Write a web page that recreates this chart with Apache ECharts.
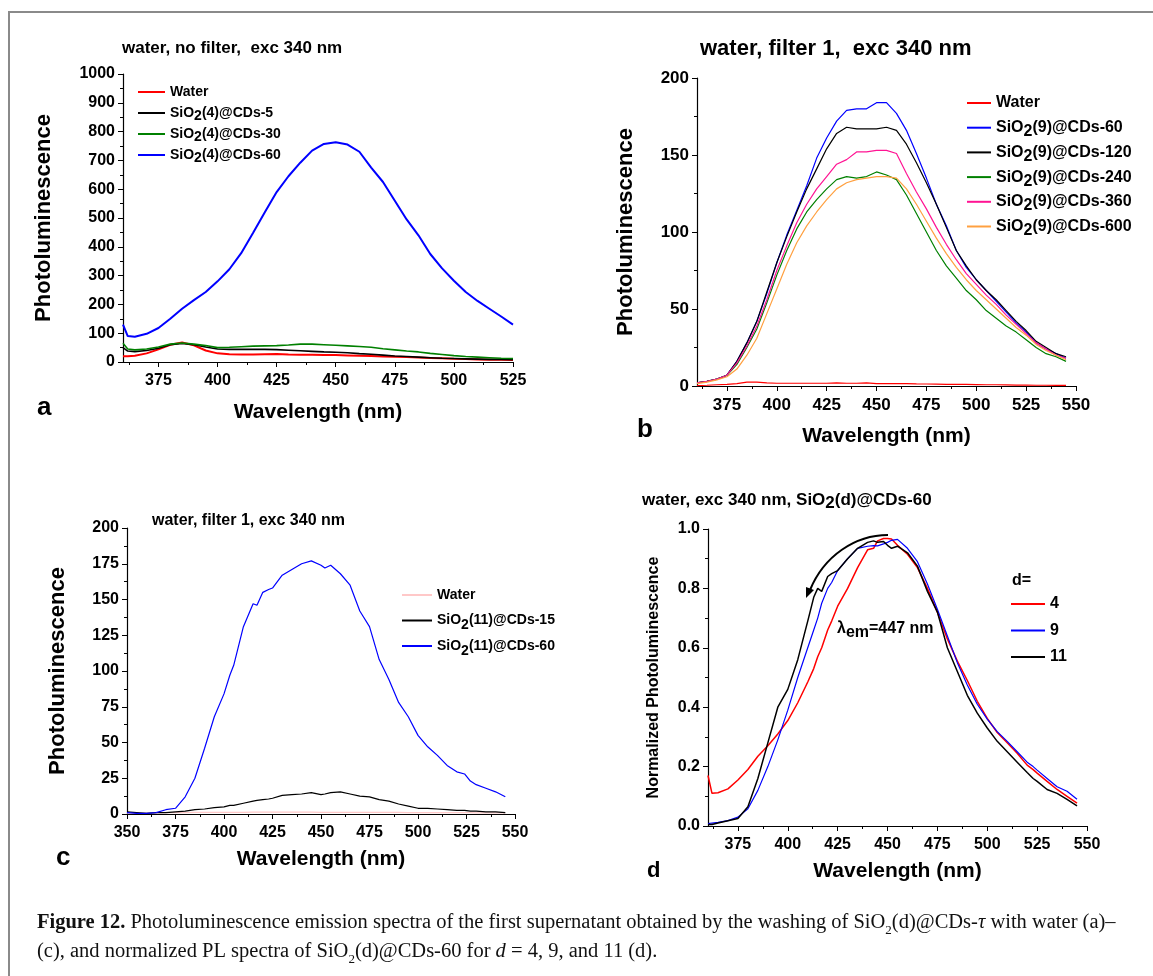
<!DOCTYPE html>
<html>
<head>
<meta charset="utf-8">
<script src="https://cdn.jsdelivr.net/npm/echarts@6/dist/echarts.min.js"></script>
<style>
html, body { margin: 0; padding: 0; background: #fff; }
#chart { width: 1153px; height: 976px; }
</style>
</head>
<body>
<div id="chart"></div>
<script>
// ---- panel a : water, no filter ----
const wlA = [360, 362, 365, 370, 375, 380, 385, 390, 395, 400, 405, 410, 415, 420, 425, 430, 435, 440, 445, 450, 455, 460, 465, 470, 475, 480, 485, 490, 495, 500, 505, 510, 515, 520, 525]
const waterA = [20, 20, 22, 30, 44, 60, 68, 58, 40, 30, 27, 26, 26, 27, 28, 26, 25, 25, 24, 24, 23, 22, 21, 19, 18, 17, 16, 14, 13, 11, 10, 9, 8, 8, 7]
const cds5A = [50, 38, 36, 40, 48, 60, 64, 60, 52, 45, 44, 44, 44, 44, 43, 41, 39, 37, 35, 34, 32, 29, 27, 24, 21, 19, 17, 15, 13, 12, 11, 10, 9, 9, 8]
const cds30A = [65, 45, 42, 45, 52, 62, 66, 62, 57, 50, 51, 53, 55, 56, 57, 59, 62, 62, 60, 58, 56, 54, 51, 46, 42, 38, 35, 30, 26, 22, 19, 17, 15, 13, 12]
const cds60A = [130, 90, 88, 98, 118, 150, 185, 215, 243, 280, 322, 378, 448, 520, 590, 645, 692, 734, 757, 763, 755, 730, 675, 625, 560, 495, 440, 375, 325, 282, 243, 212, 185, 158, 130]

// ---- panel b : water, filter 1, SiO2(9) ----
const wlB = [360, 365, 370, 375, 380, 385, 390, 395, 400, 405, 410, 415, 420, 425, 430, 435, 440, 445, 450, 455, 460, 465, 470, 475, 480, 485, 490, 495, 500, 505, 510, 515, 520, 525, 530, 535, 540, 545]
const waterB = [0.3, 0.5, 0.8, 1, 1.5, 2.5, 2.5, 2, 1.8, 1.8, 1.8, 1.8, 1.8, 1.8, 2, 1.8, 1.8, 2, 1.6, 1.6, 1.6, 1.6, 1.4, 1.3, 1.2, 1.1, 1, 1, 0.9, 0.8, 0.8, 0.7, 0.6, 0.6, 0.5, 0.5, 0.4, 0.4]
const cds60B = [2, 3, 4.5, 7, 16, 28, 42, 60, 80, 98, 114, 130, 148, 161, 172, 179, 180, 180, 184, 184, 177, 166, 151, 135, 118, 104, 88, 77, 69, 62, 55, 48, 41, 35, 28, 24, 21, 18]
const cds120B = [2, 3, 4.5, 7, 16, 28, 42, 61, 80, 97, 113, 128, 141, 154, 164, 168, 167, 167, 167, 168, 166, 157, 145, 132, 118, 103, 88, 78, 69, 62, 56, 49, 42, 36, 29, 25, 21, 19]
const cds240B = [2, 3, 4.5, 7, 14, 25, 37, 54, 72, 88, 102, 113, 121, 128, 134, 136, 135, 136, 139, 137, 134, 124, 112, 100, 88, 78, 70, 62, 56, 49, 44, 39, 35, 30, 25, 21, 19, 16]
const cds360B = [2, 3, 4.5, 7, 15, 26, 39, 56, 75, 91, 106, 118, 128, 136, 144, 147, 152, 152, 153, 153, 151, 138, 126, 115, 103, 92, 82, 73, 66, 59, 53, 46, 40, 34, 28, 24, 20, 18]
const cds600B = [1.5, 2.5, 4, 6, 11, 20, 31, 47, 63, 79, 93, 104, 113, 121, 128, 132, 134, 135, 136, 136, 135, 128, 118, 107, 96, 86, 77, 69, 62, 56, 50, 44, 38, 33, 27, 23, 20, 17]

// ---- panel c : water, filter 1, SiO2(11) ----
const wlC = [350, 355, 360, 365, 370, 375, 380, 385, 390, 395, 400, 403, 405, 410, 415, 417, 420, 423, 425, 430, 435, 440, 445, 450, 452, 455, 460, 465, 470, 475, 480, 485, 490, 495, 500, 505, 510, 515, 520, 524, 527, 530, 535, 540, 545]
const waterC = [0.6, 0.6, 0.7, 0.8, 0.9, 1, 1, 1.1, 1.1, 1.2, 1.2, 1.2, 1.2, 1.2, 1.3, 1.3, 1.3, 1.3, 1.3, 1.3, 1.3, 1.3, 1.3, 1.2, 1.2, 1.2, 1.2, 1.2, 1.2, 1.1, 1.1, 1.1, 1.1, 1, 1, 1, 1, 0.9, 0.9, 0.9, 0.9, 0.8, 0.8, 0.8, 0.8]
const cds15C = [1.5, 1, 0.5, 1, 1, 1.5, 2, 3, 3.5, 4.5, 5, 6, 6, 7.5, 9, 9.5, 10, 10.5, 11, 13, 13.5, 14, 15, 13.5, 14, 15, 15.5, 14, 12.5, 12, 10, 9, 7, 5.5, 4, 4, 3.5, 3, 2.5, 2.5, 2, 2, 1.5, 1.5, 1]
const cds60C = [1, 0.5, 0.5, 1, 3, 4, 12, 25, 46, 68, 84, 97, 104, 131, 147, 146, 155, 157, 158, 167, 171, 175, 177, 174, 172, 174, 168, 160, 142, 131, 108, 94, 78, 68, 55, 47, 41, 34, 29.5, 28, 23, 20.5, 18, 15.5, 12]

// ---- panel d : normalized, SiO2(d)@CDs-60 ----
const wlD = [360, 362, 365, 370, 375, 380, 385, 390, 395, 400, 405, 410, 413, 415, 417, 420, 422, 425, 430, 435, 440, 443, 445, 448, 450, 452, 455, 460, 465, 470, 475, 480, 485, 490, 495, 500, 505, 510, 515, 520, 523, 525, 530, 535, 540, 545]
const d4 = [0.17, 0.11, 0.112, 0.125, 0.155, 0.19, 0.235, 0.27, 0.31, 0.355, 0.415, 0.485, 0.53, 0.57, 0.6, 0.66, 0.69, 0.74, 0.8, 0.87, 0.93, 0.935, 0.96, 0.968, 0.968, 0.966, 0.945, 0.915, 0.87, 0.8, 0.72, 0.63, 0.555, 0.49, 0.42, 0.362, 0.315, 0.28, 0.245, 0.205, 0.19, 0.178, 0.15, 0.123, 0.1, 0.077]
const d9 = [0.008, 0.01, 0.012, 0.018, 0.03, 0.058, 0.12, 0.2, 0.29, 0.39, 0.5, 0.6, 0.66, 0.7, 0.75, 0.8, 0.82, 0.86, 0.9, 0.935, 0.942, 0.944, 0.943, 0.95, 0.955, 0.962, 0.965, 0.935, 0.89, 0.815, 0.73, 0.64, 0.55, 0.475, 0.41, 0.36, 0.318, 0.285, 0.25, 0.215, 0.2, 0.188, 0.16, 0.132, 0.117, 0.09]
const d11 = [0.005, 0.005, 0.01, 0.018, 0.025, 0.065, 0.16, 0.28, 0.4, 0.46, 0.56, 0.69, 0.77, 0.8, 0.79, 0.84, 0.85, 0.86, 0.9, 0.935, 0.955, 0.96, 0.955, 0.958, 0.945, 0.935, 0.942, 0.92, 0.875, 0.79, 0.72, 0.6, 0.52, 0.44, 0.38, 0.33, 0.285, 0.25, 0.215, 0.18, 0.16, 0.15, 0.123, 0.11, 0.09, 0.068]

// tick positions
const ticksX375 = [375, 400, 425, 450, 475, 500, 525, 550]
const minorX362 = [362.5, 387.5, 412.5, 437.5, 462.5, 487.5, 512.5, 537.5]
const ticksX350 = [350, 375, 400, 425, 450, 475, 500, 525, 550]

const FONT = 'Liberation Sans'
const pair = (xs, ys) => xs.map((x, i) => [x, ys[i]])

// "a:SiO2(4)@CDs-5" -> rich text with subscript 2
function subName(name) {
  const t = name.split(':')[1]
  if (t.indexOf('SiO2') === 0) {
    return '{n|SiO}{s|2}{n|' + t.slice(4) + '}'
  }
  if (t === 'Water') return '{n|Water}{s| }'
  return '{n|' + t + '}'
}

function richSub(size, lh) {
  return {
    n: { fontFamily: FONT, fontWeight: 'bold', fontSize: size, color: '#000', lineHeight: lh },
    s: { fontFamily: FONT, fontWeight: 'bold', fontSize: size, color: '#000', lineHeight: size, verticalAlign: 'bottom' }
  }
}

function xAxes(g, min, max, majors, minors, fs, nameGap) {
  return [{
    type: 'value', gridIndex: g, position: 'bottom', min: min, max: max,
    name: 'Wavelength (nm)', nameLocation: 'middle', nameGap: nameGap,
    nameTextStyle: { fontFamily: FONT, fontWeight: 'bold', fontSize: 21, color: '#000' },
    axisLine: { onZero: false, lineStyle: { color: '#000', width: 1.2 } },
    axisTick: { customValues: majors, length: 5, lineStyle: { color: '#000' } },
    axisLabel: { customValues: majors, fontFamily: FONT, fontWeight: 'bold', fontSize: fs, color: '#000', margin: 11 },
    splitLine: { show: false }
  }, {
    type: 'value', gridIndex: g, position: 'bottom', min: min, max: max,
    axisLine: { show: false, onZero: false },
    axisTick: { customValues: minors, length: 3, lineStyle: { color: '#000' } },
    axisLabel: { show: false },
    splitLine: { show: false }
  }]
}

function yAxis(g, max, interval, name, fs, nameFs, nameGap, fmt) {
  return {
    type: 'value', gridIndex: g, min: 0, max: max, interval: interval,
    name: name, nameLocation: 'middle', nameGap: nameGap,
    nameTextStyle: { fontFamily: FONT, fontWeight: 'bold', fontSize: nameFs, color: '#000' },
    axisLine: { show: true, lineStyle: { color: '#000', width: 1.2 } },
    axisTick: { show: true, length: 5, lineStyle: { color: '#000' } },
    minorTick: { show: true, splitNumber: 2, length: 3, lineStyle: { color: '#000' } },
    axisLabel: { fontFamily: FONT, fontWeight: 'bold', fontSize: fs, color: '#000', margin: 8, formatter: fmt || (v => String(v)) },
    splitLine: { show: false }
  }
}

function line(name, g, xs, ys, color, width) {
  return {
    name: name, type: 'line', xAxisIndex: g * 2, yAxisIndex: g,
    data: pair(xs, ys), symbol: 'none', showSymbol: false,
    lineStyle: { color: color, width: width }, itemStyle: { color: color },
    silent: true
  }
}

function legend(names, left, top, fs, lh, gap, w) {
  return {
    data: names, orient: 'vertical', left: left, top: top, itemGap: gap,
    icon: 'rect', itemWidth: w, itemHeight: 2, selectedMode: false,
    formatter: subName,
    textStyle: { rich: richSub(fs, lh) }
  }
}

const chart = echarts.init(document.getElementById('chart'))

chart.setOption({
  animation: false,
  backgroundColor: '#fff',
  title: [
    { text: 'water, no filter,  exc 340 nm', left: 117, top: 35, textStyle: { fontFamily: FONT, fontWeight: 'bold', fontSize: 17, color: '#000' } },
    { text: 'water, filter 1,  exc 340 nm', left: 695, top: 33, textStyle: { fontFamily: FONT, fontWeight: 'bold', fontSize: 22, color: '#000' } },
    { text: 'water, filter 1, exc 340 nm', left: 147, top: 508, textStyle: { fontFamily: FONT, fontWeight: 'bold', fontSize: 16, color: '#000' } },
    { text: '{n|water, exc 340 nm, SiO}{s|2}{n|(d)@CDs-60}', left: 637, top: 483, textStyle: { rich: richSub(17, 24) } },
    { text: 'a', left: 32, top: 390, textStyle: { fontFamily: FONT, fontWeight: 'bold', fontSize: 26, color: '#000' } },
    { text: 'b', left: 632, top: 412, textStyle: { fontFamily: FONT, fontWeight: 'bold', fontSize: 26, color: '#000' } },
    { text: 'c', left: 51, top: 840, textStyle: { fontFamily: FONT, fontWeight: 'bold', fontSize: 26, color: '#000' } },
    { text: 'd', left: 642, top: 855, textStyle: { fontFamily: FONT, fontWeight: 'bold', fontSize: 22, color: '#000' } },
    { text: 'd=', left: 1007, top: 568, textStyle: { fontFamily: FONT, fontWeight: 'bold', fontSize: 16, color: '#000' } },
    { text: '{n|λ}{s|em}{n|=447 nm}', left: 832, top: 612, textStyle: { rich: richSub(16, 24) } },
    {
      text: '{b|Figure 12.} {r|Photoluminescence emission spectra of the first supernatant obtained by the washing of SiO}{sub|2}{r|(d)@CDs-}{i|τ}{r| with water (a)–}\n{r|(c), and normalized PL spectra of SiO}{sub|2}{r|(d)@CDs-60 for }{i|d}{r| = 4, 9, and 11 (d).}',
      left: 32, top: 903,
      textStyle: {
        fontWeight: 'normal',
        lineHeight: 29,
        rich: {
          b: { fontFamily: 'Liberation Serif', fontWeight: 'bold', fontSize: 20.5, color: '#111', lineHeight: 29 },
          r: { fontFamily: 'Liberation Serif', fontWeight: 'normal', fontSize: 20.5, color: '#111', lineHeight: 29 },
          i: { fontFamily: 'Liberation Serif', fontWeight: 'normal', fontStyle: 'italic', fontSize: 20.5, color: '#111', lineHeight: 29 },
          sub: { fontFamily: 'Liberation Serif', fontWeight: 'normal', fontSize: 13, color: '#111', lineHeight: 20, verticalAlign: 'bottom' }
        }
      }
    }
  ],
  legend: [
    legend(['a:Water', 'a:SiO2(4)@CDs-5', 'a:SiO2(4)@CDs-30', 'a:SiO2(4)@CDs-60'], 133, 80, 14, 21, 3.5, 27),
    legend(['b:Water', 'b:SiO2(9)@CDs-60', 'b:SiO2(9)@CDs-120', 'b:SiO2(9)@CDs-240', 'b:SiO2(9)@CDs-360', 'b:SiO2(9)@CDs-600'], 962, 90, 16, 24, 4.7, 24),
    legend(['c:Water', 'c:SiO2(11)@CDs-15', 'c:SiO2(11)@CDs-60'], 397, 583, 14, 24, 6.5, 30),
    legend(['d:4', 'd:9', 'd:11'], 1006, 591, 16, 24, 10.5, 34)
  ],
  grid: [
    { left: 123, top: 74, width: 390, height: 288 },
    { left: 697, top: 78, width: 379, height: 308 },
    { left: 127, top: 528, width: 388, height: 286 },
    { left: 708, top: 529, width: 379, height: 297 }
  ],
  xAxis: [].concat(
    xAxes(0, 360, 525, ticksX375.slice(0, 7), minorX362.slice(0, 7), 16, 40),
    xAxes(1, 360, 550, ticksX375, minorX362, 17, 40),
    xAxes(2, 350, 550, ticksX350, minorX362, 16, 35),
    xAxes(3, 360, 550, ticksX375, minorX362, 16, 35)
  ),
  yAxis: [
    yAxis(0, 1000, 100, 'Photoluminescence', 16, 22, 68),
    yAxis(1, 200, 50, 'Photoluminescence', 17, 22, 60),
    yAxis(2, 200, 25, 'Photoluminescence', 16, 22, 58),
    yAxis(3, 1, 0.2, 'Normalized Photoluminescence', 16, 16, 46, v => v.toFixed(1))
  ],
  series: [
    line('a:Water', 0, wlA, waterA, '#ff0000', 2),
    line('a:SiO2(4)@CDs-5', 0, wlA, cds5A, '#000000', 1.6),
    line('a:SiO2(4)@CDs-30', 0, wlA, cds30A, '#008000', 1.6),
    line('a:SiO2(4)@CDs-60', 0, wlA, cds60A, '#0000ff', 2),
    line('b:Water', 1, wlB, waterB, '#ff0000', 1.2),
    line('b:SiO2(9)@CDs-60', 1, wlB, cds60B, '#0000ff', 1.2),
    line('b:SiO2(9)@CDs-120', 1, wlB, cds120B, '#000000', 1.2),
    line('b:SiO2(9)@CDs-240', 1, wlB, cds240B, '#008000', 1.2),
    line('b:SiO2(9)@CDs-360', 1, wlB, cds360B, '#ff1493', 1.2),
    line('b:SiO2(9)@CDs-600', 1, wlB, cds600B, '#ffa040', 1.2),
    line('c:Water', 2, wlC, waterC, '#ffc8c8', 1.2),
    line('c:SiO2(11)@CDs-15', 2, wlC, cds15C, '#000000', 1.2),
    line('c:SiO2(11)@CDs-60', 2, wlC, cds60C, '#0000ff', 1.2),
    line('d:4', 3, wlD, d4, '#ff0000', 1.5),
    line('d:9', 3, wlD, d9, '#0000ff', 1.2),
    line('d:11', 3, wlD, d11, '#000000', 1.5)
  ],
  graphic: [
    // figure frame
    { type: 'line', shape: { x1: 8, y1: 12, x2: 1153, y2: 12 }, style: { stroke: '#8a8a8a', lineWidth: 2 } },
    { type: 'line', shape: { x1: 9, y1: 12, x2: 9, y2: 976 }, style: { stroke: '#8a8a8a', lineWidth: 2 } },
    // arrow in panel d
    { type: 'bezierCurve', shape: { x1: 888, y1: 535, cpx1: 855, cpy1: 535, cpx2: 824, cpy2: 556, x2: 810, y2: 590 }, style: { stroke: '#000', lineWidth: 2, fill: null } },
    { type: 'polygon', shape: { points: [[806, 598], [814, 590], [806, 587]] }, style: { fill: '#000' } }
  ]
})
</script>
</body>
</html>
